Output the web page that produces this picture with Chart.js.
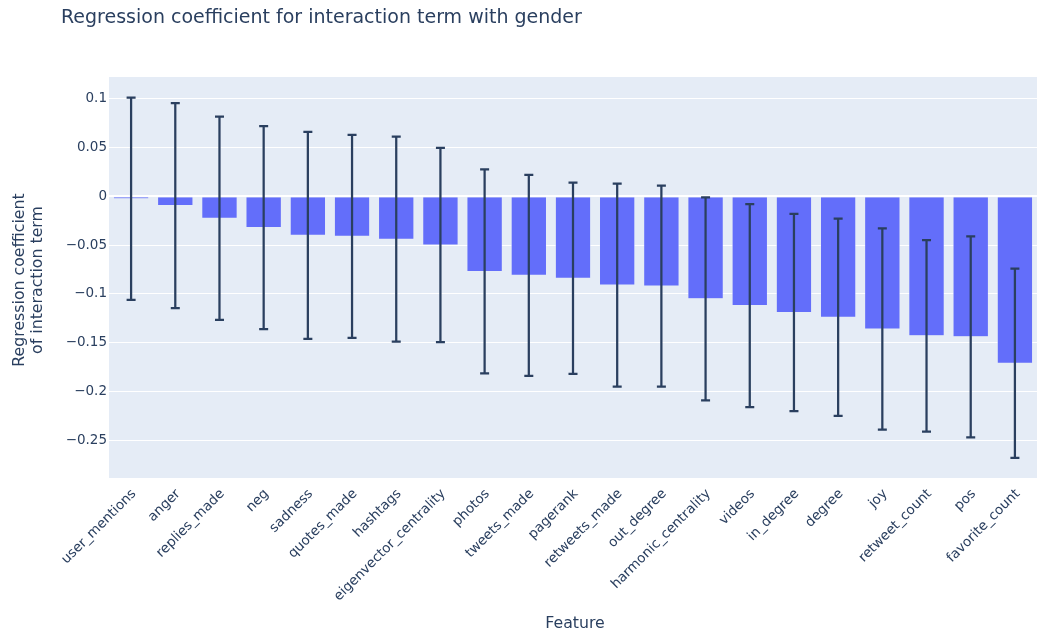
<!DOCTYPE html>
<html>
<head>
<meta charset="utf-8">
<script src="https://cdn.jsdelivr.net/npm/chart.js@4/dist/chart.umd.min.js"></script>
<style>
  html, body { margin: 0; padding: 0; background: #fff; }
  #wrap { width: 1037px; height: 634px; }
</style>
</head>
<body>
<div id="wrap"><canvas id="coefChart" width="1037" height="634"></canvas></div>
<script>
// interaction-term coefficients per feature, with error half-widths
const features = [
  "user_mentions", "anger", "replies_made", "neg", "sadness", "quotes_made",
  "hashtags", "eigenvector_centrality", "photos", "tweets_made", "pagerank",
  "retweets_made", "out_degree", "harmonic_centrality", "videos", "in_degree",
  "degree", "joy", "retweet_count", "pos", "favorite_count"
];
const coefficients = [
  -0.0025, -0.0095, -0.0225, -0.032, -0.040, -0.041,
  -0.044, -0.050, -0.077, -0.081, -0.084,
  -0.091, -0.092, -0.105, -0.112, -0.119,
  -0.124, -0.136, -0.143, -0.144, -0.171
];
const errors = [
  0.1035, 0.105, 0.104, 0.104, 0.106, 0.104,
  0.105, 0.0995, 0.1045, 0.103, 0.098,
  0.104, 0.103, 0.104, 0.104, 0.101,
  0.101, 0.103, 0.098, 0.103, 0.097
];

const TEXT = "#2a3f5f";
const FONT = "verdana, 'DejaVu Sans', sans-serif";

// plot background behind the grid
const plotBg = {
  id: "plotBg",
  beforeDraw(chart) {
    const { ctx, chartArea: a } = chart;
    ctx.save();
    ctx.fillStyle = "#E5ECF6";
    ctx.fillRect(a.left, a.top, a.right - a.left, a.bottom - a.top);
    ctx.restore();
  }
};

// symmetric error bars with small caps
const errorBars = {
  id: "errorBars",
  afterDatasetsDraw(chart) {
    const { ctx } = chart;
    const y = chart.scales.y;
    const meta = chart.getDatasetMeta(0);
    ctx.save();
    ctx.strokeStyle = TEXT;
    ctx.lineWidth = 2.25;
    meta.data.forEach((bar, i) => {
      const top = y.getPixelForValue(coefficients[i] + errors[i]);
      const bot = y.getPixelForValue(coefficients[i] - errors[i]);
      const x = bar.x;
      ctx.beginPath();
      ctx.moveTo(x, top); ctx.lineTo(x, bot);
      ctx.moveTo(x - 4.5, top); ctx.lineTo(x + 4.5, top);
      ctx.moveTo(x - 4.5, bot); ctx.lineTo(x + 4.5, bot);
      ctx.stroke();
    });
    ctx.restore();
  }
};

// chart title and axis titles
const titles = {
  id: "titles",
  afterDraw(chart) {
    const { ctx, chartArea: a } = chart;
    ctx.save();
    ctx.fillStyle = TEXT;
    ctx.textBaseline = "alphabetic";
    ctx.font = "19px " + FONT;
    ctx.textAlign = "left";
    ctx.fillText("Regression coefficient for interaction term with gender", 61, 22.5);

    ctx.font = "15.75px " + FONT;
    ctx.textAlign = "center";
    ctx.fillText("Feature", (a.left + a.right) / 2 + 2, 628);

    ctx.translate(0, 280);
    ctx.rotate(-Math.PI / 2);
    ctx.fillText("Regression coefficient", 0, 24);
    ctx.fillText("of interaction term", 0, 42);
    ctx.restore();
  }
};

new Chart(document.getElementById("coefChart"), {
  type: "bar",
  data: {
    labels: features,
    datasets: [{
      data: coefficients,
      backgroundColor: "#636efa",
      borderColor: "#E5ECF6",
      borderWidth: 0.5,
      barPercentage: 0.8,
      categoryPercentage: 1.0
    }]
  },
  options: {
    responsive: false,
    animation: false,
    layout: { padding: { top: 77, right: 0, bottom: 0, left: 0 } },
    plugins: {
      legend: { display: false },
      title: { display: false },
      tooltip: { enabled: false }
    },
    scales: {
      x: {
        grid: { display: false },
        border: { display: false },
        ticks: {
          color: TEXT,
          font: { family: FONT, size: 13.5 },
          minRotation: 45,
          maxRotation: 45,
          autoSkip: false,
          labelOffset: 3,
          padding: 0
        },
        afterFit(scale) { scale.height = 156; }
      },
      y: {
        min: -0.2886,
        max: 0.1222,
        border: { display: false },
        grid: {
          color: "#ffffff",
          lineWidth: c => (Math.abs(c.tick.value) < 1e-9 ? 2 : 1),
          drawTicks: false
        },
        ticks: {
          stepSize: 0.05,
          includeBounds: false,
          padding: 2,
          color: TEXT,
          font: { family: FONT, size: 13.5 },
          callback: v => String(+v.toFixed(2)).replace("-", "\u2212")
        },
        afterFit(scale) { scale.width = 109; }
      }
    }
  },
  plugins: [plotBg, errorBars, titles]
});
</script>
</body>
</html>
